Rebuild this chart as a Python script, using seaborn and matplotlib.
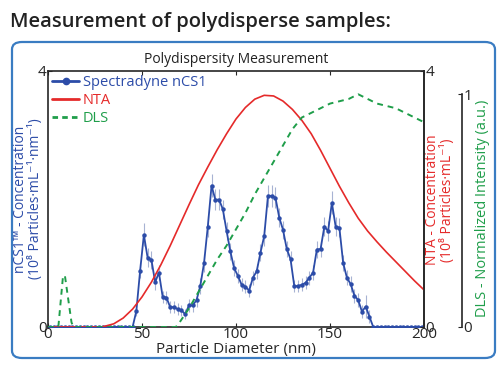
import numpy as np
import pandas as pd
import matplotlib
matplotlib.use("Agg")
import matplotlib.pyplot as plt
from matplotlib.patches import FancyBboxPatch
from matplotlib.lines import Line2D
import seaborn as sns

# ---------------- data ----------------
ncs1_diam = list(range(1, 201, 2))
ncs1_conc = ([0.0] * 23 +  # 1..45
             [0.25, 0.88, 1.44, 1.08, 1.05, 0.70, 0.85, 0.47, 0.46, 0.31,
              0.31, 0.28, 0.26, 0.20, 0.34, 0.34, 0.42, 0.64, 1.00, 1.57,
              2.21, 1.99, 1.99, 1.84, 1.50, 1.18, 0.92, 0.80, 0.66, 0.63,
              0.57, 0.77, 0.87, 1.16, 1.42, 2.05, 2.05, 2.02, 1.71, 1.52,
              1.22, 1.06, 0.64, 0.64, 0.66, 0.69, 0.77, 0.85, 1.21, 1.22,
              1.57, 1.50, 1.94, 1.57, 1.55, 1.00, 0.77, 0.67, 0.49, 0.42,
              0.24, 0.32, 0.16] +
             [0.0] * 14)  # 173..199
ncs1_err = ([0.0] * 23 +
            [0.08, 0.12, 0.18, 0.15, 0.14, 0.12, 0.12, 0.10, 0.10, 0.09,
             0.09, 0.09, 0.09, 0.08, 0.10, 0.10, 0.10, 0.12, 0.14, 0.16,
             0.18, 0.16, 0.16, 0.15, 0.14, 0.13, 0.12, 0.11, 0.10, 0.10,
             0.10, 0.11, 0.12, 0.13, 0.15, 0.17, 0.17, 0.16, 0.15, 0.14,
             0.13, 0.12, 0.10, 0.10, 0.10, 0.10, 0.11, 0.12, 0.13, 0.13,
             0.15, 0.15, 0.18, 0.15, 0.15, 0.13, 0.12, 0.12, 0.11, 0.11,
             0.10, 0.18, 0.10] +
            [0.0] * 14)

nta_diam = [0, 28, 30, 35, 40, 45, 50, 55, 60, 65, 70, 75, 80, 85, 90, 95,
            100, 105, 110, 115, 120, 125, 130, 135, 140, 145, 150, 155, 160,
            165, 170, 175, 180, 185, 190, 195, 200]
nta_conc = [0, 0, 0.01, 0.05, 0.14, 0.28, 0.47, 0.70, 0.97, 1.27, 1.59,
            1.91, 2.22, 2.50, 2.77, 3.02, 3.25, 3.43, 3.56, 3.62, 3.61, 3.53,
            3.40, 3.23, 3.02, 2.76, 2.48, 2.20, 1.94, 1.70, 1.50, 1.33, 1.17,
            1.02, 0.87, 0.72, 0.58]

dls_diam = [0, 5.5, 8, 9, 12.5, 13.5, 68, 70, 75, 80, 85, 90, 95, 100, 105,
            110, 115, 120, 125, 130, 135, 140, 145, 150, 155, 160, 165, 170,
            175, 180, 185, 190, 195, 200]
dls_int = [0, 0, 0.22, 0.22, 0.02, 0, 0, 0.02, 0.08, 0.15, 0.22, 0.29, 0.35,
           0.42, 0.49, 0.57, 0.64, 0.71, 0.78, 0.85, 0.90, 0.92, 0.94, 0.96,
           0.97, 0.98, 1.00, 0.98, 0.96, 0.95, 0.94, 0.92, 0.90, 0.88]

x_ticks = [0, 50, 100, 150, 200]

# ---------------- style ----------------
sns.set_style("ticks")
plt.rcParams['font.family'] = ['Open Sans', 'DejaVu Sans']

BLUE = "#2c4ca8"
RED = "#e52a2a"
GREEN = "#1f9e4a"
ERR = "#a7b3d3"
BOX = "#3a7cc2"

fig = plt.figure(figsize=(5.0, 3.69), dpi=100)

# outer rounded box
box = FancyBboxPatch((12 / 500, 1 - 358 / 369), (495 - 12) / 500, (358 - 42) / 369,
                     boxstyle="round,pad=0,rounding_size=0.02",
                     transform=fig.transFigure, fill=False, edgecolor=BOX,
                     linewidth=1.6)
fig.patches.append(box)

fig.text(10 / 500, 1 - 22 / 369, "Measurement of polydisperse samples:",
         fontsize=14.5, fontweight='semibold', color="#222222",
         ha='left', va='center')

ax = fig.add_axes([48 / 500, 1 - 327 / 369, 376 / 500, 256 / 369])
ax.set_title("Polydispersity Measurement", fontsize=10, pad=6, color="#222222")

df_n = pd.DataFrame({"d": ncs1_diam, "c": ncs1_conc, "e": ncs1_err})
df_t = pd.DataFrame({"d": nta_diam, "c": nta_conc})
df_d = pd.DataFrame({"d": dls_diam, "i": dls_int})

# nCS1 error bars + line
ax.errorbar(df_n["d"], df_n["c"], yerr=df_n["e"], fmt='none', ecolor=ERR,
            elinewidth=0.8, zorder=2)
sns.lineplot(data=df_n, x="d", y="c", ax=ax, color=BLUE, marker='o',
             markersize=3.2, markeredgewidth=0, linewidth=1.3, zorder=3)
ax.set_xlim(0, 200)
ax.set_ylim(0, 4)
ax.set_xticks(x_ticks)
ax.set_yticks([0, 4])
ax.tick_params(axis='both', direction='in', labelsize=11, length=3, pad=1)
ax.tick_params(axis='x', top=True, pad=0)
ax.set_xlabel("Particle Diameter (nm)", fontsize=11, labelpad=0)
ax.set_ylabel("")
for s in ax.spines.values():
    s.set_linewidth(1.2)

# NTA axis
ax2 = ax.twinx()
sns.lineplot(data=df_t, x="d", y="c", ax=ax2, color=RED, linewidth=1.2)
ax2.set_ylim(0, 4)
ax2.set_yticks([0, 4])
ax2.tick_params(axis='y', direction='in', labelsize=11, length=3, pad=1)
ax2.set_ylabel("")
ax2.set_xlim(0, 200)

# DLS axis
ax3 = ax.twinx()
sns.lineplot(data=df_d, x="d", y="i", ax=ax3, color=GREEN, linewidth=1.4,
             linestyle=(0, (3, 2.5)))
ax3.set_ylim(0, 1.1)
ax3.set_yticks([0, 1])
ax3.spines['right'].set_position(('axes', (462 - 48) / 376))
ax3.spines['right'].set_bounds(0, 1)
ax3.spines['right'].set_linewidth(1.2)
ax3.tick_params(axis='y', direction='in', labelsize=11, length=3, pad=1)
ax3.set_ylabel("")
ax3.set_xlim(0, 200)
for a in (ax2, ax3):
    a.spines['top'].set_visible(False)
    a.spines['left'].set_visible(False)
    a.spines['bottom'].set_visible(False)
ax2.spines['right'].set_linewidth(1.2)

# legend
handles = [Line2D([], [], color=BLUE, marker='o', markersize=4.5, linewidth=2),
           Line2D([], [], color=RED, linewidth=2),
           Line2D([], [], color=GREEN, linewidth=2, linestyle=(0, (2, 1.5)))]
leg = ax3.legend(handles, ["Spectradyne nCS1", "NTA", "DLS"], loc='upper left',
                 frameon=False, fontsize=10.5, handlelength=1.8, handletextpad=0.3,
                 borderaxespad=0.1, labelspacing=0.2, borderpad=0.2)
for t, c in zip(leg.get_texts(), [BLUE, RED, GREEN]):
    t.set_color(c)

# axis labels as figure text
fig.text(28 / 500, 1 - 199 / 369,
         "nCS1\u2122 - Concentration\n(10\u2078 Particles\u00b7mL\u207b\u00b9\u00b7nm\u207b\u00b9)",
         rotation=90, ha='center', va='center', multialignment='center',
         fontsize=10, color=BLUE, linespacing=1.05)
fig.text(440 / 500, 1 - 200 / 369,
         "NTA - Concentration\n(10\u2078 Particles\u00b7mL\u207b\u00b9)",
         rotation=90, ha='center', va='center', multialignment='center',
         fontsize=10, color=RED, linespacing=1.05)
fig.text(483 / 500, 1 - 208 / 369, "DLS - Normalized Intensity (a.u.)",
         rotation=90, ha='center', va='center', fontsize=10.5, color=GREEN)

fig.savefig("out.png", dpi=100)
